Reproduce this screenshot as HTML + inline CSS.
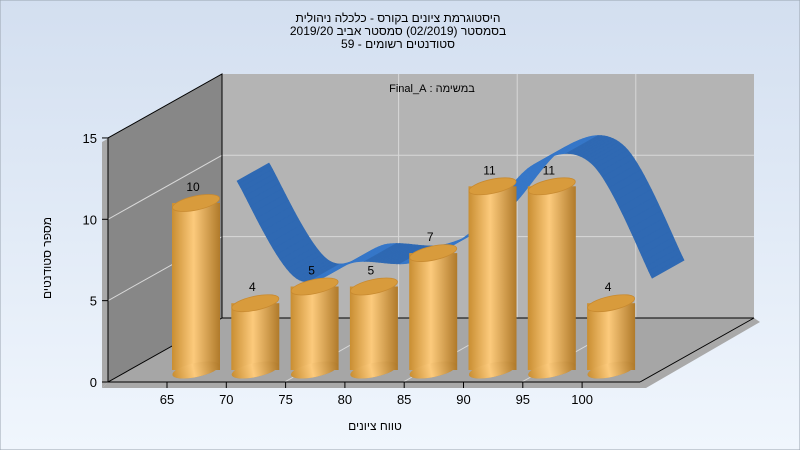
<!DOCTYPE html>
<html><head><meta charset="utf-8"><style>
html,body{margin:0;padding:0;}
body{width:800px;height:450px;overflow:hidden;font-family:"Liberation Sans",sans-serif;}
svg text{font-family:"Liberation Sans","Noto Sans CJK SC",sans-serif;}
</style></head><body>
<svg id="chart" width="800" height="450" viewBox="0 0 800 450" xmlns="http://www.w3.org/2000/svg">
<defs>
<linearGradient id="bg" x1="0" y1="0" x2="0" y2="1"><stop offset="0" stop-color="#d3dff0"/><stop offset="1" stop-color="#f0f6fd"/></linearGradient>
<linearGradient id="cyl" x1="0" y1="0" x2="1" y2="0"><stop offset="0" stop-color="#c98e32"/><stop offset="0.45" stop-color="#fcca7c"/><stop offset="1" stop-color="#b07a2a"/></linearGradient>
</defs>
<rect x="0" y="0" width="800" height="450" fill="url(#bg)" stroke="#9aa4b0"/>
<g font-size="12" fill="#000" text-anchor="middle">
<text x="398" y="22" direction="rtl">היסטוגרמת ציונים בקורס - כלכלה ניהולית</text>
<text x="398" y="35" direction="rtl">בסמסטר  (02/2019)  סמסטר אביב 2019/20</text>
<text x="398" y="48" direction="rtl">סטודנטים רשומים - 59</text>
</g>
<g id="plot"></g>
</svg>
<script>
const categories=[65,70,75,80,85,90,95,100];
const counts=[10,4,5,5,7,11,11,4];
const curveValues=[10,4,5,5,7,11,11,4];
const yTicks=[0,5,10,15];
const xTickLabels=["65","70","75","80","85","90","95","100"];

const NS="http://www.w3.org/2000/svg";
const g=document.getElementById('plot');
function el(t,a,p){const e=document.createElementNS(NS,t);for(const k in a)e.setAttribute(k,a[k]);(p||g).appendChild(e);return e;}
const DX=114,DY=-64;
const front0=382,unitF=16.27,leftX=108,rightX=640;
function yFront(v){return front0-v*unitF;}
function xTick(i){return 167+i*59.3;}

// shadows
let s=el('polygon',{points:`${leftX-6},${yFront(15)+4} ${leftX+DX-6},${yFront(15)+DY+4} ${leftX+DX},${yFront(15)+DY} ${leftX},${yFront(15)} ${leftX},${front0} ${leftX-6},${front0+6}`,fill:'#a9a9a9'});

s=el('polygon',{points:`${leftX},${front0} ${rightX},${front0} ${rightX+DX},${front0+DY} ${rightX+DX+6},${front0+DY+4} ${rightX+6},${front0+6} ${leftX-6},${front0+6}`,fill:'#a9a9a9'});

// back wall
let w=el('polygon',{points:`${leftX+DX},${yFront(15)+DY} ${rightX+DX},${yFront(15)+DY} ${rightX+DX},${front0+DY} ${leftX+DX},${front0+DY}`,fill:'#b4b4b4'});

w=el('polygon',{points:`${leftX},${yFront(15)} ${leftX+DX},${yFront(15)+DY} ${leftX+DX},${front0+DY} ${leftX},${front0}`,fill:'#878787'});

w=el('polygon',{points:`${leftX},${front0} ${rightX},${front0} ${rightX+DX},${front0+DY} ${leftX+DX},${front0+DY}`,fill:'#a6a6a6'});

// gridlines
yTicks.forEach(v=>{
 if(v===0||v===15)return;
 const y=yFront(v);
 let l=el('polyline',{points:`${leftX},${y} ${leftX+DX},${y+DY} ${rightX+DX},${y+DY}`,fill:'none',stroke:'#d8d8d8','stroke-width':1});
 
});
categories.forEach((c,i)=>{
 if(i%2===0||i===categories.length-1)return;
 const x=xTick(i)+ (i===1?0:0);
});
[2,4,6].forEach(i=>{
 const x=xTick(i)-1;
 let l=el('polyline',{points:`${x},${front0} ${x+DX},${front0+DY} ${x+DX},${yFront(15)+DY}`,fill:'none',stroke:'#d8d8d8'});
 
});
// frame lines
let f=el('polyline',{points:`${leftX},${yFront(15)} ${leftX+DX},${yFront(15)+DY} ${leftX+DX},${front0+DY} ${rightX+DX},${front0+DY}`,fill:'none',stroke:'#000'});

f=el('line',{x1:leftX+DX,y1:front0+DY,x2:leftX,y2:front0,stroke:'#000'});


// subtitle
let st=el('text',{x:432,y:92,'font-size':11,'text-anchor':'middle',direction:'rtl'});st.textContent='במשימה : Final_A';


// ribbon (spline)
const rx0=237,rstep=59.3,rbase=343,runit=16.2,RDX=32,RDY=-18;
const pts=curveValues.map((v,i)=>[rx0+i*rstep,rbase-v*runit]);
const sp=[];
for(let i=0;i<pts.length-1;i++){
 const p0=pts[Math.max(0,i-1)],p1=pts[i],p2=pts[i+1],p3=pts[Math.min(pts.length-1,i+2)];
 for(let k=0;k<20;k++){const t=k/20,t2=t*t,t3=t2*t;
  const fx=(a,b,c,d)=>0.5*((2*b)+(-a+c)*t+(2*a-5*b+4*c-d)*t2+(-a+3*b-3*c+d)*t3);
  sp.push([fx(p0[0],p1[0],p2[0],p3[0]),fx(p0[1],p1[1],p2[1],p3[1])]);}
}
sp.push(pts[pts.length-1]);
for(let i=0;i<sp.length-1;i++){
 const a=sp[i],b=sp[i+1];
 const up=b[1]<a[1];
 let q=el('polygon',{points:`${a[0]},${a[1]} ${b[0]},${b[1]} ${b[0]+RDX},${b[1]+RDY} ${a[0]+RDX},${a[1]+RDY}`,fill:up?'#3677c8':'#2f69b3',stroke:up?'#3677c8':'#2f69b3','stroke-width':0.6});
 
}

// bars
const bx0=196,bstep=59.3,bbase=370,bunit=16.7,bw=48;
counts.forEach((v,i)=>{
 const cx=bx0+i*bstep,top=bbase-v*bunit;
 const grp=el('g',{});
 
 el('ellipse',{cx:cx,cy:bbase,rx:bw/2,ry:7,transform:`rotate(-12 ${cx} ${bbase})`,fill:'#c08a35'},grp);
 el('rect',{x:cx-bw/2,y:top,width:bw,height:bbase-top,fill:'url(#cyl)'},grp);
 el('ellipse',{cx:cx,cy:bbase,rx:bw/2,ry:7,transform:`rotate(-12 ${cx} ${bbase})`,fill:'url(#cyl)',"clip-path":""},grp);
 el('ellipse',{cx:cx,cy:top,rx:bw/2,ry:7,transform:`rotate(-12 ${cx} ${top})`,fill:'#d89b3c',stroke:'#c88a30','stroke-width':0.8},grp);
 const t=el('text',{x:cx-3,y:top-12,'font-size':12,'text-anchor':'middle',fill:'#000'});
 t.textContent=v;
 
});

// front axes
let ax=el('line',{x1:leftX,y1:yFront(15),x2:leftX,y2:front0,stroke:'#000'});

ax=el('line',{x1:leftX,y1:front0,x2:rightX,y2:front0,stroke:'#000'});

ax=el('line',{x1:rightX,y1:front0,x2:rightX+DX,y2:front0+DY,stroke:'#000'});

yTicks.forEach(v=>{
 const y=yFront(v);
 let tk=el('line',{x1:leftX-6,y1:y,x2:leftX,y2:y,stroke:'#000'});
 
 const t=el('text',{x:leftX-11,y:y+5,'font-size':13,'text-anchor':'end'});t.textContent=v;
 
});
xTickLabels.forEach((lab,i)=>{
 const x=xTick(i);
 let tk=el('line',{x1:x,y1:front0,x2:x,y2:front0+6,stroke:'#000'});
 
 const t=el('text',{x:x,y:404,'font-size':13,'text-anchor':'middle'});t.textContent=lab;
 
});
let xt=el('text',{x:375,y:430,'font-size':12,'text-anchor':'middle',direction:'rtl'});xt.textContent='טווח ציונים';

let yt=el('text',{x:0,y:0,'font-size':12,'text-anchor':'middle',direction:'rtl',transform:'translate(51,258) rotate(-90)'});yt.textContent='מספר סטודנטים';

</script>
</body></html>
